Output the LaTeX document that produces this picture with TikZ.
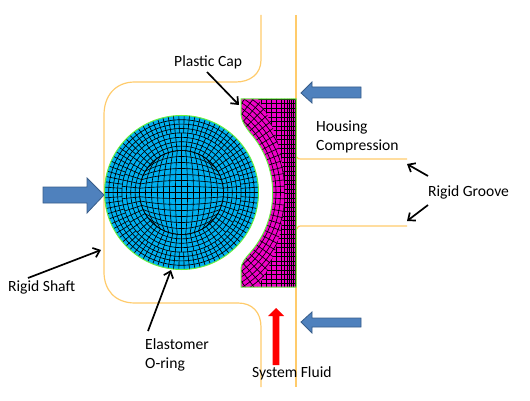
\documentclass[tikz,border=0pt]{standalone}
\usepackage{fontspec}
\setmainfont{Carlito}
\usetikzlibrary{arrows.meta}
\definecolor{ringblue}{HTML}{00B0F0}
\definecolor{capmag}{HTML}{F000C8}
\definecolor{meshgreen}{HTML}{66F040}
\definecolor{wallorange}{HTML}{FFCB6B}
\definecolor{loadblue}{HTML}{4F81BD}
\definecolor{loadedge}{HTML}{385D8A}

\begin{document}
\begin{tikzpicture}[x=1pt, y=-1pt,
    wall/.style={wallorange, line width=1.2pt},
    mesh/.style={black, line width=0.65pt},
    load/.style={fill=loadblue, draw=loadedge, line width=0.8pt},
    pointer/.style={-{Straight Barb[length=6pt,width=10pt]}, line width=1.7pt, black},
    lbl/.style={font=\fontsize{15.6}{19}\selectfont, inner sep=0pt, anchor=west, align=left}]
    \useasboundingbox (0,0) rectangle (530,401);
    \coordinate (c) at (181.5,192.5);

    % rigid walls
    \draw[wall] (261,15) -- (261,60) .. controls (261,74) and (250,82) .. (236,82) -- (135,82) .. controls (115,82) and (104,96) .. (104,115) -- (104,272) .. controls (104,290) and (115,303) .. (135,303) -- (238,303) .. controls (252,303) and (261,312) .. (261,327) -- (261,387);
    \draw[wall] (296,15) -- (296,387);
    \draw[wall] (297,157) .. controls (298,159) .. (301,159) -- (407,159);
    \draw[wall] (297,229) .. controls (298,226) .. (301,226) -- (407,226);

    % elastomer o-ring
    \fill[ringblue] (c) circle[radius=77];
    \begin{scope}
        \clip (c) circle[radius=77];
        \foreach \r in {42,46.4,...,77} \draw[mesh] (c) circle[radius=\r];
        \foreach \a in {0,4,...,356} \draw[mesh] (c) ++(\a:59.6) -- ++(\a:20);
        \foreach \a in {0,6,...,354} \draw[mesh] (c) ++(\a:42) -- ++(\a:17.6);
        \foreach \i in {-7,-6,...,7} {
            \draw[mesh] plot[smooth, domain=-1:1, samples=15] ({181.5+\i/7*42*sqrt(1-\x*\x/2)}, {192.5+\x*42*sqrt(1-\i*\i/98)});
            \draw[mesh] plot[smooth, domain=-1:1, samples=15] ({181.5+\x*42*sqrt(1-\i*\i/98)}, {192.5+\i/7*42*sqrt(1-\x*\x/2)});
        }
    \end{scope}
    \draw[meshgreen, line width=1pt] (c) circle[radius=77];

    % plastic cap
    \def\capoutline{(241,99) -- (296,99) -- (296,287) -- (241,287) -- (241,270) .. controls (241,262) and (246,258) .. (250,253) arc[start angle=41.4, end angle=-41.4, radius=91] .. controls (246,127) and (241,122) .. (241,112) -- cycle}
    \fill[capmag] \capoutline;
    \begin{scope}
        \clip \capoutline;
        \begin{scope}
            \clip (c) ellipse[x radius=103, y radius=140];
            \foreach \r in {90,94.5,...,150} \draw[mesh] (c) circle[radius=\r];
            \foreach \a in {-70,-66.5,...,70} \draw[mesh] (c) ++(\a:88) -- ++(\a:60);
        \end{scope}
        \begin{scope}[even odd rule]
            \clip (230,90) rectangle (300,295) (c) ellipse[x radius=103, y radius=140];
            \foreach \px in {241,246,...,281,284,287,289,291,293,295} \draw[mesh] (\px,95) -- (\px,290);
            \foreach \py in {99,103.5,...,289} \draw[mesh] (235,\py) -- (298,\py);
        \end{scope}
    \end{scope}
    \draw[meshgreen, line width=1pt] \capoutline;

    % loads
    \draw[load] (43,187) -- (87,187) -- (87,178) -- (104,195) -- (87,213) -- (87,203) -- (43,203) -- cycle;
    \draw[load] (361,87) -- (312,87) -- (312,82) -- (301,93) -- (312,103) -- (312,98) -- (361,98) -- cycle;
    \draw[load] (361,318) -- (312,318) -- (312,312) -- (301,322) -- (312,333) -- (312,327) -- (361,327) -- cycle;
    \fill[red] (272.7,365) -- (272.7,316) -- (268,316) -- (276,308) -- (284,316) -- (279.3,316) -- (279.3,365) -- cycle;

    % labels
    \node[lbl] (plastic) at (174,62) {Plastic Cap};
    \node[lbl] (housing) at (316,137) {Housing\\Compression};
    \node[lbl] (groove) at (428,192) {Rigid Groove};
    \node[lbl] (shaft) at (8,287) {Rigid Shaft};
    \node[lbl] (elastomer) at (145,354.5) {Elastomer\\O-ring};
    \node[lbl] (fluid) at (252,373) {System Fluid};

    % pointers
    \coordinate (plasticfrom) at (207,72);   \coordinate (plasticto) at (239,105);
    \coordinate (shaftfrom) at (28,278);     \coordinate (shaftto) at (101,250);
    \coordinate (elastfrom) at (148,331);    \coordinate (elastto) at (171,270);
    \coordinate (groovefrom) at (428,176);   \coordinate (grooveto) at (407,164);
    \coordinate (groovefromb) at (428,205);  \coordinate (groovetob) at (407,221);
    \draw[pointer] (plasticfrom) -- (plasticto);
    \draw[pointer] (shaftfrom) -- (shaftto);
    \draw[pointer] (elastfrom) -- (elastto);
    \draw[pointer] (groovefrom) -- (grooveto);
    \draw[pointer] (groovefromb) -- (groovetob);
\end{tikzpicture}
\end{document}
